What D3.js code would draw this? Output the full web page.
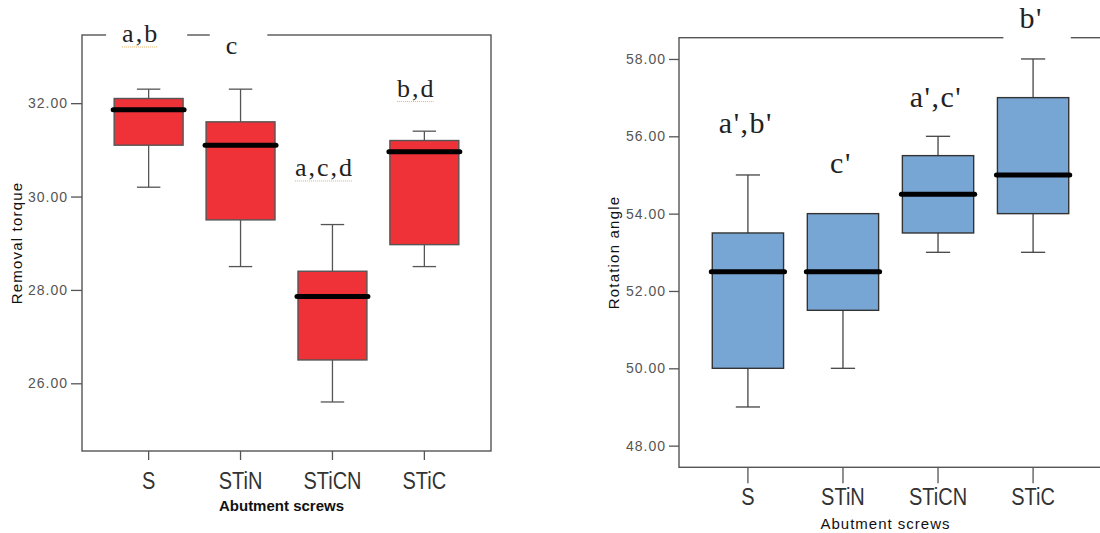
<!DOCTYPE html>
<html>
<head>
<meta charset="utf-8">
<script src="https://cdn.jsdelivr.net/npm/d3@7"></script>
<style>
  body { margin: 0; background: #fff; }
  svg { display: block; }
</style>
</head>
<body>
<script>

var groups = ["S", "STiN", "STiCN", "STiC"];

// removal torque (left panel)
var torqueLow     = [30.2, 28.5, 25.6, 28.5];
var torqueQ1      = [31.1, 29.5, 26.5, 28.97];
var torqueMedian  = [31.86, 31.1, 27.86, 30.96];
var torqueQ3      = [32.1, 31.6, 28.4, 31.2];
var torqueHigh    = [32.3, 32.3, 29.4, 31.4];
var torqueTicks   = [26, 28, 30, 32];
var torqueLetters = ["a,b", "c", "a,c,d", "b,d"];
var torqueLetterAt = [33.3, 33.06, 30.43, 32.13];

// rotation angle (right panel)
var angleLow     = [49, 50, 53, 53];
var angleQ1      = [50, 51.5, 53.5, 54];
var angleMedian  = [52.5, 52.5, 54.5, 55];
var angleQ3      = [53.5, 54, 55.5, 57];
var angleHigh    = [55, 54, 56, 58];
var angleTicks   = [48, 50, 52, 54, 56, 58];
var angleLetters = ["a',b'", "c'", "a',c'", "b'"];
var angleLetterAt = [56.08, 55.06, 56.75, 58.79];

var svg = d3.select("body").append("svg")
    .attr("width", 1100)
    .attr("height", 533);

function drawPanel(p) {
  var x = d3.scaleBand()
      .domain(groups)
      .range([p.x0, p.x1])
      .paddingInner(0.25)
      .paddingOuter(0.35);
  var y = d3.scaleLinear()
      .domain(p.domain)
      .range([p.y1, p.y0]);
  var bw = x.bandwidth();

  var g = svg.append("g");

  g.append("rect")
      .attr("x", p.x0)
      .attr("y", p.y0)
      .attr("width", p.x1 - p.x0)
      .attr("height", p.y1 - p.y0)
      .attr("fill", "none")
      .attr("stroke", p.frame)
      .attr("stroke-width", 1.4);

  // y axis
  var ya = g.append("g")
      .attr("transform", "translate(" + p.x0 + ",0)")
      .call(d3.axisLeft(y).tickValues(p.ticks).tickFormat(d3.format(".2f"))
            .tickSize(p.yTick).tickPadding(3).tickSizeOuter(0));
  ya.select(".domain").remove();
  ya.selectAll("line").attr("stroke", p.frame).attr("stroke-width", 1.3);
  ya.selectAll("text")
      .attr("fill", "#555")
      .style("font-family", "'Liberation Sans', Arial, sans-serif")
      .style("font-size", "14px")
      .style("letter-spacing", "1px");

  // x axis
  var xa = g.append("g")
      .attr("transform", "translate(0," + p.y1 + ")")
      .call(d3.axisBottom(x).tickSize(p.xTick).tickSizeOuter(0));
  xa.select(".domain").remove();
  xa.selectAll("line").attr("stroke", p.frame).attr("stroke-width", 1.3);
  xa.selectAll("text")
      .attr("y", 0)
      .attr("dy", null)
      .attr("transform", "translate(0,38) scale(1,1.15)")
      .attr("fill", "#333")
      .style("font-family", "'Liberation Sans', Arial, sans-serif")
      .style("font-size", "20px");

  // axis titles
  g.append("text")
      .attr("x", (p.x0 + p.x1) / 2 - 5)
      .attr("y", p.y1 + p.titleGap)
      .attr("text-anchor", "middle")
      .attr("fill", "#111")
      .style("font-family", "'Liberation Sans', Arial, sans-serif")
      .style("font-size", "15px")
      .style("font-weight", p.titleWeight)
      .style("letter-spacing", p.titleSpacing)
      .text("Abutment screws");

  g.append("text")
      .attr("transform", "translate(" + (p.x0 - 60) + "," + (p.y0 + p.y1) / 2 + ") rotate(-90)")
      .attr("text-anchor", "middle")
      .attr("fill", "#111")
      .style("font-family", "'Liberation Sans', Arial, sans-serif")
      .style("font-size", "15px")
      .style("letter-spacing", "1.2px")
      .text(p.yTitle);

  var bgLayer = g.append("g");
  var boxLayer = g.append("g");
  var textLayer = g.append("g");

  groups.forEach(function (name, i) {
    var left = x(name);
    var cx = left + bw / 2;
    var cap = bw * 0.34;
    var b = boxLayer.append("g");

    b.append("line")
        .attr("x1", cx).attr("x2", cx)
        .attr("y1", y(p.low[i])).attr("y2", y(p.q1[i]))
        .attr("stroke", p.whisker).attr("stroke-width", 1.3);
    b.append("line")
        .attr("x1", cx).attr("x2", cx)
        .attr("y1", y(p.q3[i])).attr("y2", y(p.high[i]))
        .attr("stroke", p.whisker).attr("stroke-width", 1.3);
    [p.low[i], p.high[i]].forEach(function (v) {
      b.append("line")
          .attr("x1", cx - cap / 2).attr("x2", cx + cap / 2)
          .attr("y1", y(v)).attr("y2", y(v))
          .attr("stroke", p.whisker).attr("stroke-width", 1.3);
    });

    b.append("rect")
        .attr("x", left)
        .attr("y", y(p.q3[i]))
        .attr("width", bw)
        .attr("height", y(p.q1[i]) - y(p.q3[i]))
        .attr("fill", p.fill)
        .attr("stroke", p.boxStroke)
        .attr("stroke-width", 1.4);

    b.append("line")
        .attr("x1", left - 1).attr("x2", left + bw + 1)
        .attr("y1", y(p.median[i])).attr("y2", y(p.median[i]))
        .attr("stroke", "#000")
        .attr("stroke-width", 5)
        .attr("stroke-linecap", "round");

    // significance letters
    var t = textLayer.append("text")
        .attr("x", cx + p.letterDx)
        .attr("y", y(p.letterAt[i]))
        .attr("text-anchor", "middle")
        .attr("fill", "#222")
        .style("font-family", "'Liberation Serif', 'Times New Roman', serif")
        .style("font-size", p.letterSize)
        .style("letter-spacing", p.letterSpacing)
        .text(p.letters[i]);
    var bb = t.node().getBBox();
    bgLayer.append("rect")
        .attr("x", bb.x - 16)
        .attr("y", bb.y)
        .attr("width", bb.width + 44)
        .attr("height", bb.height + 7)
        .attr("fill", "#fff");

    if (p.underline && p.letters[i].indexOf(",") >= 0) {
      textLayer.append("line")
          .attr("x1", bb.x).attr("x2", bb.x + bb.width - 2)
          .attr("y1", y(p.letterAt[i]) + 4.5).attr("y2", y(p.letterAt[i]) + 4.5)
          .attr("stroke", "#e8b060")
          .attr("stroke-width", 1)
          .attr("stroke-dasharray", "1,1");
    }
  });
}

drawPanel({
  x0: 82, x1: 491, y0: 35, y1: 451,
  domain: [24.55, 33.46],
  ticks: torqueTicks,
  low: torqueLow, q1: torqueQ1, median: torqueMedian, q3: torqueQ3, high: torqueHigh,
  letters: torqueLetters, letterAt: torqueLetterAt, letterDx: -8,
  letterSize: "26px", letterSpacing: "2px", underline: true,
  fill: "#ee3238", boxStroke: "#555", whisker: "#555", frame: "#555",
  yTick: 11, xTick: 9,
  yTitle: "Removal torque", titleGap: 60, titleWeight: "bold", titleSpacing: "0px"
});

drawPanel({
  x0: 679, x1: 1102, y0: 37.7, y1: 467.3,
  domain: [47.44, 58.55],
  ticks: angleTicks,
  low: angleLow, q1: angleQ1, median: angleMedian, q3: angleQ3, high: angleHigh,
  letters: angleLetters, letterAt: angleLetterAt, letterDx: -2,
  letterSize: "30px", letterSpacing: "1.5px", underline: false,
  fill: "#78a6d4", boxStroke: "#333", whisker: "#444", frame: "#555",
  yTick: 10, xTick: 16,
  yTitle: "Rotation angle", titleGap: 62, titleWeight: "normal", titleSpacing: "1px"
});

</script>
</body>
</html>
